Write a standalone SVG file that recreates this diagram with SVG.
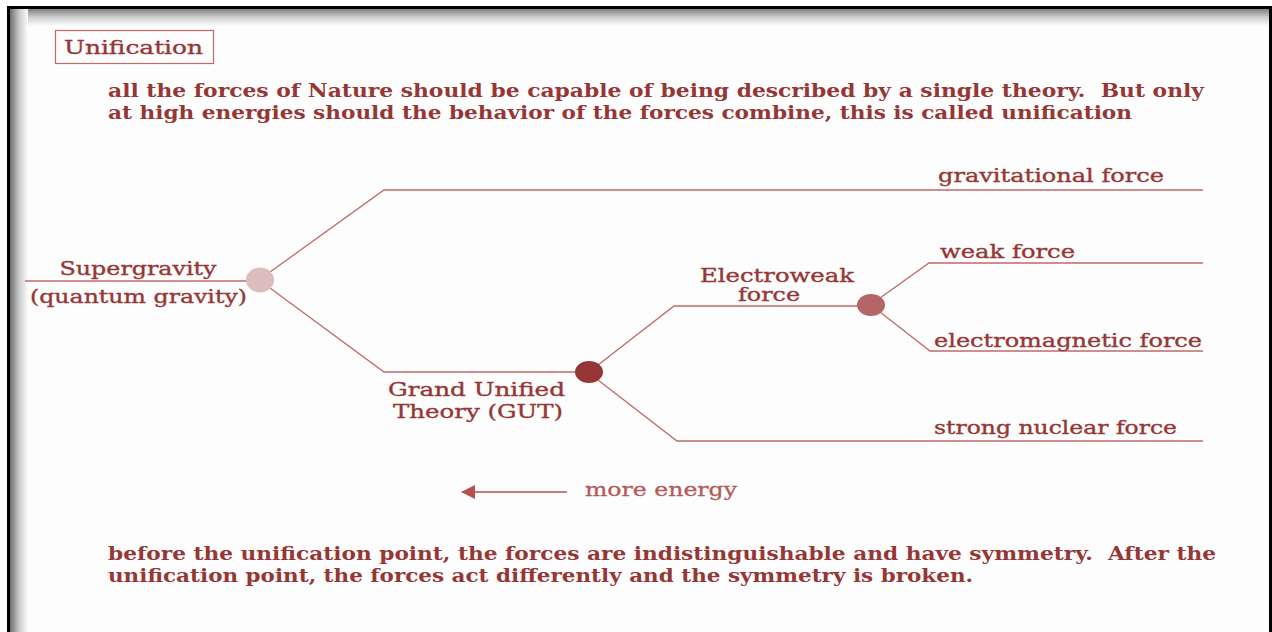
<svg xmlns="http://www.w3.org/2000/svg" width="1272" height="632" viewBox="0 0 1272 632">
<defs>
<linearGradient id="gTop" x1="0" y1="0" x2="0" y2="1">
<stop offset="0" stop-color="#808080"/>
<stop offset="0.5" stop-color="#d0d0d0"/>
<stop offset="1" stop-color="#fdfdfd"/>
</linearGradient>
<linearGradient id="gLeft" x1="0" y1="0" x2="1" y2="0">
<stop offset="0" stop-color="#707070"/>
<stop offset="0.5" stop-color="#c8c8c8"/>
<stop offset="1" stop-color="#fdfdfd"/>
</linearGradient>
<marker id="arr" markerWidth="14" markerHeight="14" refX="13" refY="7" orient="auto" markerUnits="userSpaceOnUse">
<path d="M14,7 L0,0 L0,14 Z" fill="#b5504d"/>
</marker>
<style>
.t{font-family:"DejaVu Serif","Liberation Serif",serif;fill:#953735;stroke:#953735;stroke-width:0.35;}
.para{font-family:"DejaVu Serif","Liberation Serif",serif;fill:#953735;font-weight:bold;font-size:19px;white-space:pre;}
.ln{stroke:#c06a68;stroke-width:1.3;fill:none;}
</style>
</defs>
<rect x="0" y="0" width="1272" height="632" fill="#ffffff"/>
<rect x="10" y="9" width="1259" height="623" fill="#fdfdfd"/>
<rect x="10" y="9" width="1259" height="17" fill="url(#gTop)"/>
<rect x="10" y="9" width="18" height="623" fill="url(#gLeft)"/>
<rect x="7" y="6" width="1265" height="3" fill="#000"/>
<rect x="7" y="6" width="3" height="626" fill="#000"/>
<rect x="1269" y="6" width="3" height="626" fill="#000"/>

<g id="title">
<rect x="55.5" y="30.5" width="158" height="33" fill="none" stroke="#c06a68" stroke-width="1.2"/>
<text class="t" x="64" y="54" font-size="19" textLength="139" lengthAdjust="spacingAndGlyphs">Unification</text>
</g>
<g id="intro">
<text class="para" x="108" y="97" textLength="1096" lengthAdjust="spacingAndGlyphs">all the forces of Nature should be capable of being described by a single theory.  But only</text>
<text class="para" x="108" y="119" textLength="1024" lengthAdjust="spacingAndGlyphs">at high energies should the behavior of the forces combine, this is called unification</text>
</g>

<g id="connectors">
<line class="ln" x1="25" y1="281" x2="248" y2="281"/>
<polyline class="ln" points="270,272 384,190 1203,190"/>
<polyline class="ln" points="270,288 384,372 580,372"/>
<polyline class="ln" points="598,365 674,306 862,306"/>
<polyline class="ln" points="598,380 677,441 1203,441"/>
<polyline class="ln" points="880,298 929,263 1203,263"/>
<polyline class="ln" points="880,312 930,351 1203,351"/>
</g>

<g id="supergravity">
<ellipse cx="260" cy="280" rx="14" ry="12.5" fill="#dcbcbc"/>
<text class="t" x="138" y="275" font-size="18" text-anchor="middle" textLength="157" lengthAdjust="spacingAndGlyphs">Supergravity</text>
<text class="t" x="30" y="303" font-size="18" textLength="217" lengthAdjust="spacingAndGlyphs">(quantum gravity)</text>
</g>
<g id="gut">
<ellipse cx="589" cy="372" rx="14" ry="11" fill="#963535"/>
<text class="t" x="388" y="396" font-size="18" textLength="177" lengthAdjust="spacingAndGlyphs">Grand Unified</text>
<text class="t" x="393" y="418" font-size="18" textLength="170" lengthAdjust="spacingAndGlyphs">Theory (GUT)</text>
</g>
<g id="electroweak">
<ellipse cx="871" cy="305" rx="14" ry="11" fill="#b56565"/>
<text class="t" x="700" y="282" font-size="18" textLength="154" lengthAdjust="spacingAndGlyphs">Electroweak</text>
<text class="t" x="738" y="301" font-size="18" textLength="62" lengthAdjust="spacingAndGlyphs">force</text>
</g>
<g id="gravitational">
<text class="t" x="938" y="182" font-size="18" textLength="226" lengthAdjust="spacingAndGlyphs">gravitational force</text>
</g>
<g id="weak">
<text class="t" x="940" y="258" font-size="18" textLength="135" lengthAdjust="spacingAndGlyphs">weak force</text>
</g>
<g id="electromagnetic">
<text class="t" x="934" y="347" font-size="18" textLength="268" lengthAdjust="spacingAndGlyphs">electromagnetic force</text>
</g>
<g id="strong">
<text class="t" x="934" y="434" font-size="18" textLength="243" lengthAdjust="spacingAndGlyphs">strong nuclear force</text>
</g>

<g id="energy">
<line x1="567" y1="492" x2="462" y2="492" stroke="#b5504d" stroke-width="1.5" marker-end="url(#arr)"/>
<text x="585" y="496" font-family="DejaVu Serif, Liberation Serif, serif" font-size="18" fill="#b35a5a" stroke="#b35a5a" stroke-width="0.3" textLength="152" lengthAdjust="spacingAndGlyphs">more energy</text>
</g>

<g id="summary">
<text class="para" x="108" y="560" textLength="1108" lengthAdjust="spacingAndGlyphs">before the unification point, the forces are indistinguishable and have symmetry.  After the</text>
<text class="para" x="108" y="582" textLength="865" lengthAdjust="spacingAndGlyphs">unification point, the forces act differently and the symmetry is broken.</text>
</g>
</svg>
